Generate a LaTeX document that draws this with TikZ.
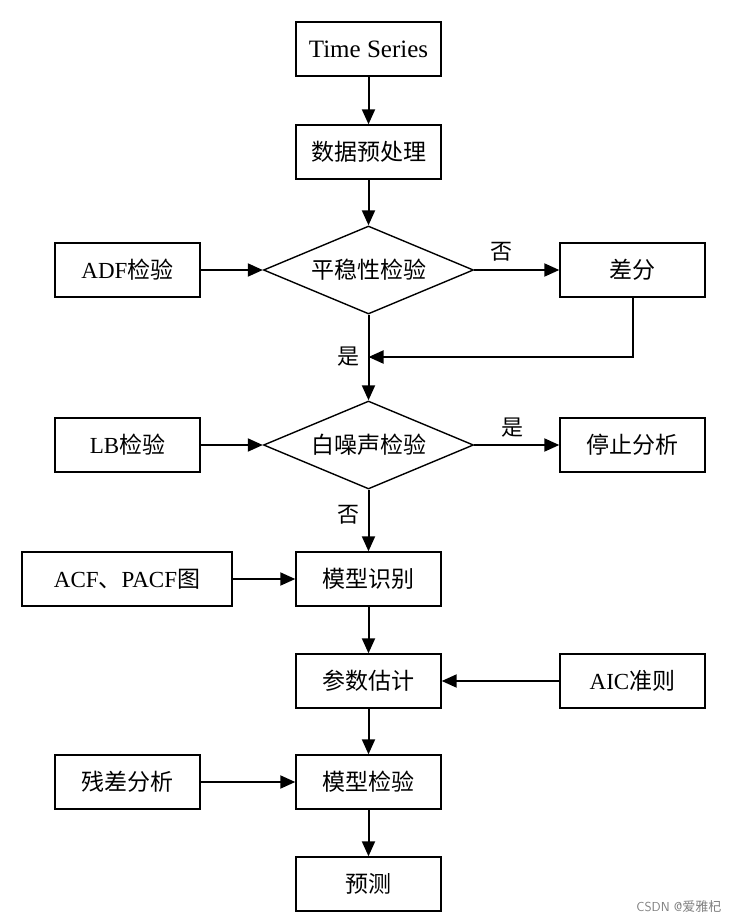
\documentclass[tikz,border=0pt]{standalone}
\usepackage{fontspec}
\setmainfont{Liberation Serif}
\newfontfamily\cjk{Noto Sans CJK SC}
\newcommand{\zh}[1]{{\cjk #1}}
\usetikzlibrary{arrows.meta,shapes.geometric}
\begin{document}
\begin{tikzpicture}[x=1pt,y=-1pt,
	box/.style={draw,line width=1.4pt,minimum width=145pt,minimum height=54pt,inner sep=0pt,font=\fontsize{23}{26}\selectfont},
	decide/.style={draw,diamond,aspect=2.39,line width=1.4pt,minimum width=210pt,minimum height=88pt,inner sep=0pt,font=\fontsize{23}{26}\selectfont},
	flow/.style={line width=2pt,-{Triangle[length=15pt,width=13pt]}},
	lbl/.style={font=\fontsize{22}{24}\selectfont}]
	\useasboundingbox (0,0) rectangle (739,924);
	\fill[white] (0,0) rectangle (739,924);

	\node[box] (ts) at (368.5,49) {\fontsize{25}{28}\selectfont Time Series};
	\node[box] (pre) at (368.5,152) {\zh{数据预处理}};
	\node[decide] (stat) at (368.5,270) {\zh{平稳性检验}};
	\node[box] (adf) at (127.5,270) {ADF\zh{检验}};
	\node[box] (diff) at (632.5,270) {\zh{差分}};
	\node[decide] (wn) at (368.5,445) {\zh{白噪声检验}};
	\node[box] (lb) at (127.5,445) {LB\zh{检验}};
	\node[box] (stop) at (632.5,445) {\zh{停止分析}};
	\node[box] (ident) at (368.5,579) {\zh{模型识别}};
	\node[box,minimum width=210pt] (acf) at (127,579) {ACF\zh{、}PACF\zh{图}};
	\node[box] (est) at (368.5,681) {\zh{参数估计}};
	\node[box] (aic) at (632.5,681) {AIC\zh{准则}};
	\node[box] (check) at (368.5,782) {\zh{模型检验}};
	\node[box] (resid) at (127.5,782) {\zh{残差分析}};
	\node[box] (pred) at (368.5,884) {\zh{预测}};
	\coordinate (join) at (368.5,357);

	\draw[flow] (ts) -- (pre);
	\draw[flow] (pre) -- (stat);
	\draw[flow] (adf) -- (stat);
	\draw[flow] (stat) -- (diff);
	\draw[flow] (diff.south) |- (join);
	\draw[flow] (stat) -- (wn);
	\draw[flow] (lb) -- (wn);
	\draw[flow] (wn) -- (stop);
	\draw[flow] (wn) -- (ident);
	\draw[flow] (acf) -- (ident);
	\draw[flow] (ident) -- (est);
	\draw[flow] (aic) -- (est);
	\draw[flow] (est) -- (check);
	\draw[flow] (resid) -- (check);
	\draw[flow] (check) -- (pred);

	\node[lbl] at (501,252) {\zh{否}};
	\node[lbl] at (348,357) {\zh{是}};
	\node[lbl] at (512,428) {\zh{是}};
	\node[lbl] at (348,515) {\zh{否}};
	\node[font=\fontsize{13}{15}\selectfont\sffamily,text=gray,anchor=east] at (725,907) {CSDN @\zh{爱雅杞}};
\end{tikzpicture}
\end{document}
